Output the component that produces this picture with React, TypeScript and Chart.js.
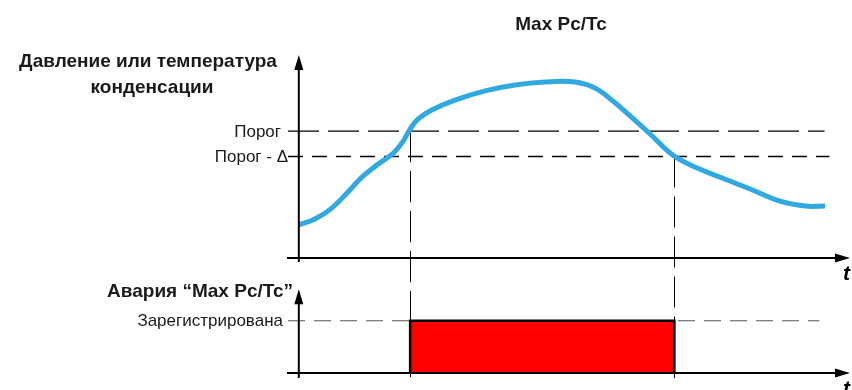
import React, { useEffect, useRef } from "react";
import { Chart, registerables } from "chart.js";

Chart.register(...registerables);

// ---- data (time in arbitrary units, value in % of scale) ----
const curveTime = [0, 3.0, 6.1, 9.1, 11.7, 14.7, 17.5, 19.2, 20.6, 22.1, 24.6, 28.9, 34.5, 40.0, 45.5, 51.1, 54.8, 57.9, 61.3, 65.0, 69.2, 73.3, 77.9, 83.5, 88.9, 93.7, 97.4];
const curveValue = [16.3, 19.2, 24.6, 32.5, 39.9, 46.3, 51.7, 57.1, 63.5, 68.5, 72.9, 77.8, 82.3, 85.2, 86.7, 86.7, 83.7, 77.8, 70.0, 61.1, 50.7, 44.8, 39.9, 34.0, 28.1, 25.6, 25.6];

const thresholdHigh = 62.5; // Порог
const thresholdLow = 50; // Порог - Δ
const thresholdHighEnd = 97.3;
const thresholdLowEnd = 98.2;

const alarmOn = 20.6;
const alarmOff = 69.5;
const alarmRegistered = 1;
const registeredLineEnd = 96.3;

const timeMin = -2;
const timeMax = 102;
const valueMax = 100;
const alarmMax = 2.2;
const alarmAxisTop = 1.6;

const titleText = "Max Pc/Tc";
const valueAxisTitle = ["Давление или температура", "конденсации"];
const alarmAxisTitle = "Авария “Max Pc/Tc”";
const thresholdHighLabel = "Порог";
const thresholdLowLabel = "Порог - Δ";
const registeredLabel = "Зарегистрирована";
const timeLabel = "t";

const FONT = "'Liberation Sans', Arial, sans-serif";

function arrow(ctx: CanvasRenderingContext2D, tx: number, ty: number, dir: "up" | "right") {
  const len = 15;
  const hw = 4.5;
  ctx.beginPath();
  if (dir === "up") {
    ctx.moveTo(tx, ty);
    ctx.lineTo(tx - hw, ty + len);
    ctx.lineTo(tx + hw, ty + len);
  } else {
    ctx.moveTo(tx, ty);
    ctx.lineTo(tx - len, ty - hw);
    ctx.lineTo(tx - len, ty + hw);
  }
  ctx.closePath();
  ctx.fill();
}

const overlayPlugin = {
  id: "overlay",
  beforeDatasetsDraw(chart: any) {
    const { ctx, scales } = chart;
    const x = scales.x, y = scales.y, y2 = scales.y2;
    ctx.save();
    ctx.strokeStyle = "#000";
    ctx.lineWidth = 1;
    ctx.setLineDash([31, 9]);
    const xa = Math.round(x.getPixelForValue(alarmOn)) + 0.5;
    ctx.beginPath();
    ctx.moveTo(xa, y.getPixelForValue(thresholdHigh));
    ctx.lineTo(xa, y2.getPixelForValue(0) + 4);
    ctx.stroke();
    const xb = Math.round(x.getPixelForValue(alarmOff)) + 0.5;
    ctx.beginPath();
    ctx.moveTo(xb, y.getPixelForValue(thresholdLow));
    ctx.lineTo(xb, y2.getPixelForValue(0) + 5);
    ctx.stroke();
    ctx.restore();
  },
  afterDatasetsDraw(chart: any) {
    const { ctx, scales, chartArea } = chart;
    const x = scales.x, y = scales.y, y2 = scales.y2;
    const x0 = x.getPixelForValue(0);
    const left = x.getPixelForValue(timeMin) - 1;
    const right = chartArea.right;
    ctx.save();
    ctx.strokeStyle = "#000";
    ctx.fillStyle = "#000";
    ctx.lineWidth = 2;
    ctx.setLineDash([]);

    // top plot axes
    const yTop0 = y.getPixelForValue(0);
    const yTopTip = y.getPixelForValue(valueMax);
    ctx.beginPath();
    ctx.moveTo(x0, yTop0 + 4);
    ctx.lineTo(x0, yTopTip + 10);
    ctx.stroke();
    arrow(ctx, x0, yTopTip, "up");
    ctx.beginPath();
    ctx.moveTo(left, yTop0);
    ctx.lineTo(right - 10, yTop0);
    ctx.stroke();
    arrow(ctx, right, yTop0, "right");

    // bottom plot axes
    const yBot0 = y2.getPixelForValue(0);
    const yBotTip = y2.getPixelForValue(alarmAxisTop);
    ctx.beginPath();
    ctx.moveTo(x0, yBot0 + 5);
    ctx.lineTo(x0, yBotTip + 10);
    ctx.stroke();
    arrow(ctx, x0, yBotTip, "up");
    ctx.beginPath();
    ctx.moveTo(left, yBot0);
    ctx.lineTo(right - 10, yBot0);
    ctx.stroke();
    arrow(ctx, right, yBot0, "right");

    // texts
    ctx.fillStyle = "#1a1a1a";
    ctx.textBaseline = "alphabetic";
    ctx.font = `bold 19px ${FONT}`;
    ctx.textAlign = "center";
    ctx.fillText(titleText, 561, 30);
    ctx.fillText(valueAxisTitle[0], 148, 67);
    ctx.fillText(valueAxisTitle[1], 152, 93);
    ctx.textAlign = "right";
    ctx.fillText(alarmAxisTitle, 293, 297);

    ctx.font = `17px ${FONT}`;
    ctx.textBaseline = "middle";
    ctx.fillText(thresholdHighLabel, 281, y.getPixelForValue(thresholdHigh) + 1);
    ctx.fillText(thresholdLowLabel, 288, y.getPixelForValue(thresholdLow) + 1);
    ctx.fillText(registeredLabel, 283, y2.getPixelForValue(alarmRegistered) + 1);

    ctx.font = `italic bold 21px ${FONT}`;
    ctx.textAlign = "left";
    ctx.textBaseline = "alphabetic";
    ctx.fillStyle = "#000";
    ctx.fillText(timeLabel, 843, yTop0 + 22);
    ctx.fillText(timeLabel, 843, yBot0 + 22);
    ctx.restore();
  },
};

export default function App() {
  const ref = useRef<HTMLCanvasElement | null>(null);
  useEffect(() => {
    if (!ref.current) return;
    const curve = curveTime.map((t, i) => ({ x: t, y: curveValue[i] }));
    const chart = new Chart(ref.current, {
      type: "line",
      data: {
        datasets: [
          {
            data: curve,
            xAxisID: "x",
            yAxisID: "y",
            borderColor: "#2fa9e0",
            borderWidth: 5,
            tension: 0.4,
            pointRadius: 0,
            fill: false,
            borderCapStyle: "butt",
            borderJoinStyle: "round",
          },
          {
            data: [
              { x: timeMin, y: thresholdHigh },
              { x: thresholdHighEnd, y: thresholdHigh },
            ],
            xAxisID: "x",
            yAxisID: "y",
            borderColor: "#000",
            borderWidth: 1.3,
            borderDash: [31, 9],
            pointRadius: 0,
            fill: false,
          },
          {
            data: [
              { x: timeMin, y: thresholdLow },
              { x: thresholdLowEnd, y: thresholdLow },
            ],
            xAxisID: "x",
            yAxisID: "y",
            borderColor: "#000",
            borderWidth: 1.3,
            borderDash: [15, 9],
            pointRadius: 0,
            fill: false,
          },
          {
            data: [
              { x: alarmOn, y: 0 },
              { x: alarmOn, y: alarmRegistered },
              { x: alarmOff, y: alarmRegistered },
              { x: alarmOff, y: 0 },
            ],
            xAxisID: "x",
            yAxisID: "y2",
            borderColor: "#000",
            borderWidth: 2.5,
            backgroundColor: "#ff0000",
            fill: "origin",
            pointRadius: 0,
            tension: 0,
          },
          {
            data: [
              { x: timeMin, y: alarmRegistered },
              { x: registeredLineEnd, y: alarmRegistered },
            ],
            xAxisID: "x",
            yAxisID: "y2",
            borderColor: "#555",
            borderWidth: 1.2,
            borderDash: [17, 9],
            pointRadius: 0,
            fill: false,
          },
        ],
      },
      options: {
        responsive: false,
        animation: false,
        devicePixelRatio: 1,
        layout: { padding: { left: 288, right: 2, top: 55, bottom: 17 } },
        plugins: {
          legend: { display: false },
          tooltip: { enabled: false },
          title: { display: false },
        },
        scales: {
          x: { type: "linear", min: timeMin, max: timeMax, display: false },
          y2: { type: "linear", min: 0, max: alarmMax, display: false, position: "left", stack: "v", stackWeight: 115 },
          y: { type: "linear", min: 0, max: valueMax, display: false, position: "left", stack: "v", stackWeight: 203 },
        },
      },
      plugins: [overlayPlugin],
    } as any);
    return () => chart.destroy();
  }, []);
  return (
    <div style={{ position: "fixed", left: 0, top: 0, width: 852, height: 390, background: "#fff" }}>
      <canvas ref={ref} width={852} height={390} style={{ width: 852, height: 390, display: "block" }} />
    </div>
  );
}
